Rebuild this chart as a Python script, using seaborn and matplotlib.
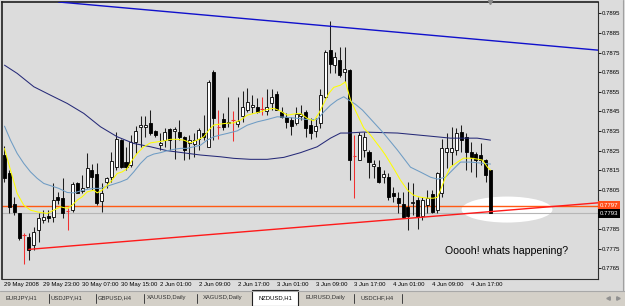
import numpy as np
import pandas as pd
import matplotlib
matplotlib.use("Agg")
import matplotlib.pyplot as plt
from matplotlib.patches import Ellipse, Rectangle
from matplotlib.lines import Line2D
import seaborn as sns

# ---------------- data ----------------
open_ = [0.78228, 0.78134, 0.77978, 0.77930, 0.77818, 0.77811, 0.77768, 0.77845, 0.77896, 0.77916,
         0.77913, 0.78015, 0.78007, 0.77944, 0.77947, 0.78086, 0.78046, 0.78066, 0.78151, 0.78131,
         0.77995, 0.78090, 0.78117, 0.78168, 0.78304, 0.78190, 0.78177, 0.78295, 0.78369, 0.78369,
         0.78389, 0.78350, 0.78280, 0.78307, 0.78362, 0.78350, 0.78346, 0.78318, 0.78287, 0.78284,
         0.78312, 0.78341, 0.78270, 0.78653, 0.78372, 0.78411, 0.78389, 0.78409, 0.78386, 0.78426,
         0.78460, 0.78471, 0.78474, 0.78462, 0.78454, 0.78491, 0.78539, 0.78448, 0.78420, 0.78409,
         0.78392, 0.78426, 0.78448, 0.78381, 0.78352, 0.78389, 0.78525, 0.78763, 0.78687, 0.78712,
         0.78653, 0.78661, 0.78222, 0.78205, 0.78253, 0.78245, 0.78171, 0.78168, 0.78114, 0.78117,
         0.78032, 0.78007, 0.77978, 0.77964, 0.77981, 0.77998, 0.77916, 0.77973, 0.78029, 0.77947,
         0.78032, 0.78245, 0.78245, 0.78253, 0.78346, 0.78318, 0.78245, 0.78233, 0.78228, 0.78202,
         0.78151]
high = [0.78273, 0.78151, 0.78015, 0.77934, 0.77828, 0.77828, 0.77862, 0.77930, 0.77947, 0.77947,
        0.78083, 0.78040, 0.78109, 0.77956, 0.78091, 0.78091, 0.78126, 0.78240, 0.78182, 0.78185,
        0.78083, 0.78117, 0.78245, 0.78346, 0.78312, 0.78270, 0.78329, 0.78375, 0.78426, 0.78426,
        0.78460, 0.78355, 0.78341, 0.78364, 0.78367, 0.78372, 0.78409, 0.78324, 0.78329, 0.78338,
        0.78364, 0.78431, 0.78610, 0.78661, 0.78457, 0.78440, 0.78525, 0.78452, 0.78525, 0.78556,
        0.78568, 0.78534, 0.78517, 0.78525, 0.78562, 0.78562, 0.78556, 0.78474, 0.78440, 0.78423,
        0.78474, 0.78483, 0.78457, 0.78415, 0.78415, 0.78562, 0.78763, 0.78913, 0.78755, 0.78780,
        0.78780, 0.78669, 0.78329, 0.78346, 0.78346, 0.78253, 0.78205, 0.78202, 0.78151, 0.78134,
        0.78066, 0.78040, 0.78040, 0.78091, 0.78083, 0.78015, 0.78015, 0.78052, 0.78049, 0.78143,
        0.78312, 0.78338, 0.78372, 0.78364, 0.78381, 0.78338, 0.78295, 0.78245, 0.78287, 0.78210,
        0.78151]
low = [0.78091, 0.77930, 0.77922, 0.77797, 0.77675, 0.77692, 0.77743, 0.77786, 0.77879, 0.77888,
       0.77888, 0.77978, 0.77905, 0.77845, 0.77939, 0.78032, 0.78035, 0.78058, 0.78052, 0.77973,
       0.77939, 0.78058, 0.78091, 0.78151, 0.78160, 0.78151, 0.78168, 0.78236, 0.78270, 0.78321,
       0.78329, 0.78321, 0.78253, 0.78270, 0.78253, 0.78210, 0.78304, 0.78205, 0.78210, 0.78219,
       0.78253, 0.78304, 0.78270, 0.78304, 0.78312, 0.78355, 0.78372, 0.78300, 0.78372, 0.78398,
       0.78448, 0.78440, 0.78440, 0.78431, 0.78431, 0.78457, 0.78457, 0.78415, 0.78364, 0.78329,
       0.78381, 0.78406, 0.78321, 0.78312, 0.78321, 0.78364, 0.78517, 0.78644, 0.78644, 0.78627,
       0.78601, 0.78100, 0.78007, 0.78202, 0.78219, 0.78109, 0.78109, 0.78083, 0.78083, 0.77998,
       0.77990, 0.77930, 0.77905, 0.77845, 0.77922, 0.77853, 0.77896, 0.77930, 0.77930, 0.77930,
       0.78015, 0.78160, 0.78177, 0.78228, 0.78245, 0.78151, 0.78143, 0.78117, 0.78177, 0.78091,
       0.77930]
close = [0.78109, 0.77964, 0.77939, 0.77803, 0.77818, 0.77743, 0.77836, 0.77905, 0.77910, 0.77905,
         0.77998, 0.77998, 0.77930, 0.77944, 0.78078, 0.78035, 0.78058, 0.78160, 0.78117, 0.77981,
         0.78035, 0.78109, 0.78199, 0.78312, 0.78168, 0.78168, 0.78295, 0.78350, 0.78379, 0.78379,
         0.78338, 0.78329, 0.78290, 0.78346, 0.78304, 0.78360, 0.78318, 0.78253, 0.78307, 0.78307,
         0.78355, 0.78318, 0.78601, 0.78415, 0.78372, 0.78369, 0.78398, 0.78409, 0.78400, 0.78471,
         0.78500, 0.78483, 0.78448, 0.78462, 0.78471, 0.78522, 0.78460, 0.78423, 0.78398, 0.78375,
         0.78437, 0.78437, 0.78364, 0.78341, 0.78375, 0.78534, 0.78755, 0.78692, 0.78726, 0.78636,
         0.78669, 0.78202, 0.78222, 0.78329, 0.78321, 0.78194, 0.78182, 0.78091, 0.78131, 0.78015,
         0.78018, 0.77981, 0.77913, 0.77916, 0.77990, 0.77913, 0.77998, 0.78007, 0.77939, 0.78134,
         0.78262, 0.78262, 0.78262, 0.78338, 0.78304, 0.78245, 0.78219, 0.78205, 0.78205, 0.78126,
         0.77930]

date_label_bars = [0, 8, 16, 24, 32, 40, 48, 56, 64, 72, 80, 88, 96]
date_labels = ["29 May 2008", "29 May 23:00", "30 May 07:00", "30 May 15:00", "2 Jun 01:00",
               "2 Jun 09:00", "2 Jun 17:00", "3 Jun 01:00", "3 Jun 09:00", "3 Jun 17:00",
               "4 Jun 01:00", "4 Jun 09:00", "4 Jun 17:00"]
price_ticks = [0.7765, 0.7775, 0.7785, 0.7805, 0.7815, 0.7825, 0.7835, 0.7845,
               0.7855, 0.7865, 0.7875, 0.7885, 0.7895]

yellow_bar = [0, 1.23, 2.61, 3.97, 5.35, 6.73, 8.79, 10.14, 11.52, 12.9,
              13.93, 14.96, 15.99, 17.02, 18.37, 19.07, 20.1, 21.13, 22.16, 23.19,
              24.22, 25.25, 26.28, 27.3, 28.66, 30.04, 31.42, 32.78, 34.16, 35.53,
              36.89, 38.27, 39.65, 41.01, 42.04, 43.07, 44.44, 45.82, 47.18, 48.56,
              49.94, 51.3, 52.67, 54.05, 55.41, 56.79, 58.17, 59.53, 60.91, 62.28,
              63.64, 64.67, 65.7, 66.73, 67.76, 69.14, 70.16, 71.2, 72.57, 73.93,
              75.3, 77.37, 78.4, 80.04, 81.48, 82.92, 84.16, 85.6, 87.04, 88.27,
              89.09, 89.71, 90.74, 91.77, 93.21, 94.44, 95.88, 97.33, 98.35, 99.38, 100]
yellow_price = [0.78261, 0.78151, 0.78032, 0.77972, 0.77947, 0.77938, 0.7793, 0.77947, 0.77964, 0.77956,
                0.77972, 0.77998, 0.78015, 0.7804, 0.78049, 0.78035, 0.78049, 0.78074, 0.781, 0.78134,
                0.78142, 0.78159, 0.78202, 0.78236, 0.7827, 0.7829, 0.78295, 0.783, 0.78308, 0.78308,
                0.78304, 0.7829, 0.78304, 0.78321, 0.78355, 0.78381, 0.78386, 0.7839, 0.78392, 0.78406,
                0.78431, 0.7844, 0.78448, 0.7846, 0.78466, 0.78452, 0.78431, 0.78437, 0.7844, 0.78415,
                0.78402, 0.7844, 0.78491, 0.78542, 0.78573, 0.78584, 0.78601, 0.78508, 0.78436, 0.78365,
                0.7833, 0.78263, 0.78227, 0.78161, 0.781, 0.78049, 0.78023, 0.78013, 0.78008, 0.78008,
                0.78013, 0.78049, 0.78115, 0.78166, 0.78192, 0.78212, 0.78212, 0.78207, 0.78202, 0.78166, 0.78151]

steel_bar = [0, 1.23, 2.61, 3.97, 5.35, 6.73, 8.09, 9.81, 11.17, 12.9,
             14.26, 15.64, 17.02, 18.37, 19.75, 21.13, 22.49, 23.87, 25.25, 26.6,
             27.98, 29.36, 30.72, 32.1, 33.48, 34.84, 36.21, 37.59, 38.95, 40.33,
             41.7, 43.07, 44.44, 45.82, 47.88, 49.94, 52.0, 54.05, 56.11, 58.17,
             60.23, 62.28, 64.34, 65.7, 67.08, 68.46, 69.81, 70.84, 72.2, 73.66,
             77.98, 80.86, 83.54, 85.6, 87.65, 89.09, 90.74, 91.77, 93.83, 95.88, 97.94, 100]
steel_price = [0.78375, 0.78304, 0.78236, 0.78185, 0.78142, 0.78109, 0.78083, 0.78069, 0.78058, 0.78037,
               0.78035, 0.78045, 0.78053, 0.78058, 0.78058, 0.78069, 0.7808, 0.78091, 0.78105, 0.78142,
               0.78185, 0.78219, 0.78233, 0.7824, 0.7825, 0.78257, 0.78262, 0.78262, 0.7827, 0.78278,
               0.78304, 0.78321, 0.7833, 0.78338, 0.78351, 0.7838, 0.78397, 0.78409, 0.78423, 0.7842,
               0.78415, 0.78409, 0.78409, 0.78448, 0.78482, 0.78508, 0.78525, 0.78508, 0.78487, 0.78457,
               0.7834, 0.78253, 0.78166, 0.78141, 0.78115, 0.78105, 0.78115, 0.78141, 0.78192, 0.78192, 0.78187, 0.78182]

navy_bar = [0, 2.61, 6.03, 9.47, 12.9, 16.32, 19.75, 23.19, 26.6, 30.04,
            33.48, 36.89, 40.33, 44.44, 47.18, 50.62, 54.05, 57.47, 60.91, 64.34,
            67.08, 69.14, 70.58, 73.87, 80.86, 87.65, 89.71, 91.77, 93.83, 97.26, 100]
navy_price = [0.78686, 0.78644, 0.78576, 0.78533, 0.78491, 0.7844, 0.78372, 0.78321, 0.78287, 0.7827,
              0.7825, 0.78239, 0.78228, 0.78219, 0.78211, 0.78206, 0.78206, 0.78216, 0.7824, 0.7827,
              0.78314, 0.7834, 0.7834, 0.78345, 0.7834, 0.78324, 0.78319, 0.78314, 0.78314, 0.78314, 0.78304]

blue_trend_bar = [12.96, 116.5]
blue_trend_price = [0.79004, 0.78775]
red_trend_bar = [5.0, 116.5]
red_trend_price = [0.77747, 0.77973]
level_price = 0.7797
bid_price = 0.7793
ellipse_center = (103.4, 0.77950)
ellipse_size = (18.7, 0.001325)
note_text = "Ooooh! whats happening?"
note_pos = (90.6, 0.77741)
tab_names = ["EURJPY,H1", "USDJPY,H1", "GBPUSD,H4", "XAUUSD,Daily", "XAGUSD,Daily",
             "NZDUSD,H1", "EURUSD,Daily", "USDCHF,H4"]
active_tab = "NZDUSD,H1"

# ---------------- style ----------------
BG = "#DCDCDC"
sns.set_theme(style="white", rc={"axes.facecolor": BG, "figure.facecolor": BG,
                                 "axes.edgecolor": "black"})
plt.rcParams["font.family"] = ["Liberation Sans", "DejaVu Sans"]

W, H = 625, 306
fig = plt.figure(figsize=(W / 100, H / 100), dpi=100)
ax = fig.add_axes([2 / W, 1 - 279 / H, 596 / W, 277 / H])
ax.set_facecolor(BG)
ax.set_xlim(-0.514, 122.12)
ax.set_ylim(0.77596, 0.79008)

# background objects
ax.add_patch(Ellipse(ellipse_center, ellipse_size[0], ellipse_size[1],
                     facecolor="white", edgecolor="none", zorder=1.1))
ax.axhline(bid_price, color="#B6B6B6", lw=0.8, zorder=1.5)
ax.axhline(level_price, color="#FF5A14", lw=1.0, zorder=1.6)

# candles
df = pd.DataFrame({"o": open_, "h": high, "l": low, "c": close})
df["bar"] = np.arange(len(df))
doji = df["o"] == df["c"]
bull = df["c"] > df["o"]
bear = df["c"] < df["o"]
nd = df[~doji]
ax.vlines(nd["bar"], nd["l"], nd["h"], color="#1E1E1E", lw=0.75, zorder=3)
dj = df[doji]
ax.vlines(dj["bar"], dj["l"], dj["h"], color="#F03030", lw=0.75, zorder=3)
ax.hlines(dj["o"], dj["bar"] - 0.35, dj["bar"] + 0.35, color="#F03030", lw=0.8, zorder=3)
bw = 0.62
b = df[bull]
ax.bar(b["bar"], b["c"] - b["o"], bottom=b["o"], width=bw, color="white",
       edgecolor="black", linewidth=0.6, zorder=3.2)
s = df[bear]
ax.bar(s["bar"], s["o"] - s["c"], bottom=s["c"], width=bw, color="black",
       edgecolor="black", linewidth=0.6, zorder=3.2)

# moving averages via seaborn
ma = pd.concat([
    pd.DataFrame({"bar": navy_bar, "price": navy_price, "line": "slow"}),
    pd.DataFrame({"bar": steel_bar, "price": steel_price, "line": "mid"}),
    pd.DataFrame({"bar": yellow_bar, "price": yellow_price, "line": "fast"}),
])
sns.lineplot(data=ma, x="bar", y="price", hue="line", estimator=None, sort=False,
             palette={"slow": "#262A78", "mid": "#6E9CC4", "fast": "#FFFF00"},
             linewidth=0.75, legend=False, ax=ax, zorder=4)

# trend lines
ax.axline((blue_trend_bar[0], blue_trend_price[0]), (blue_trend_bar[1], blue_trend_price[1]),
          color="#1010CC", lw=1.0, zorder=4.5)
slope = (red_trend_price[1] - red_trend_price[0]) / (red_trend_bar[1] - red_trend_bar[0])
xr = ax.get_xlim()[1]
ax.plot([red_trend_bar[0], xr], [red_trend_price[0], red_trend_price[0] + slope * (xr - red_trend_bar[0])],
        color="#FF1A1A", lw=1.0, zorder=4.5)

ax.text(note_pos[0], note_pos[1], note_text, fontsize=7.6, color="black",
        ha="left", va="center", zorder=6)

# shift marker at top
ax.plot([len(df) - 1], [ax.get_ylim()[1]], marker="v", color="#8C8C8C", ms=3,
        clip_on=False, zorder=6)

# axes
ax.yaxis.tick_right()
ax.set_yticks(price_ticks)
ax.set_yticklabels([f"{p:.4f}" for p in price_ticks])
ax.tick_params(axis="y", length=2, width=0.6, pad=1, labelsize=4.3, colors="black", direction="out")
ax.set_xticks(date_label_bars)
ax.set_xticklabels(date_labels, ha="left")
ax.tick_params(axis="x", length=2, width=0.6, pad=0.5, labelsize=4.3, colors="black", direction="out")
ax.set_xlabel("")
ax.set_ylabel("")
for side in ["left", "top"]:
    ax.spines[side].set_linewidth(1.2)
    ax.spines[side].set_color("#202020")
for side in ["right", "bottom"]:
    ax.spines[side].set_linewidth(0.8)
    ax.spines[side].set_color("#303030")

# price boxes on axis
ytr = ax.get_yaxis_transform()
ax.text(1.003, level_price, f"{level_price:.4f}", transform=ytr, fontsize=4.3, color="white",
        ha="left", va="center", clip_on=False,
        bbox=dict(boxstyle="square,pad=0.3", fc="#FF4E1A", ec="none"))
ax.text(1.003, bid_price, f"{bid_price:.4f}", transform=ytr, fontsize=4.3, color="white",
        ha="left", va="center", clip_on=False,
        bbox=dict(boxstyle="square,pad=0.3", fc="black", ec="none"))

# window chrome: right border, tab strip
fig.add_artist(Line2D([622.5 / W] * 2, [1 - 0 / H, 1 - 291 / H], transform=fig.transFigure,
                      color="#A0A0A0", lw=0.8))
fig.add_artist(Rectangle((0, 0), 1, 15 / H, transform=fig.transFigure,
                         facecolor="#D4D0C8", edgecolor="none"))
fig.add_artist(Line2D([0, 1], [15 / H] * 2, transform=fig.transFigure, color="#A8A8A8", lw=0.8))
tab_centers = [21.5, 66.5, 114.5, 166.5, 223, 275.5, 325.5, 377.5]
seps = [49, 96, 144, 197, 354, 402]
for sx in seps:
    fig.add_artist(Line2D([sx / W] * 2, [3 / H, 12 / H], transform=fig.transFigure,
                          color="#404040", lw=0.7))
fig.add_artist(Rectangle((252 / W, 0), 46 / W, 16 / H, transform=fig.transFigure,
                         facecolor="white", edgecolor="#202020", lw=0.8))
for name, cx in zip(tab_names, tab_centers):
    fig.text(cx / W, 8.5 / H, name, fontsize=4.2, color="#303030" if name != active_tab else "black",
             ha="center", va="center")
fig.add_artist(Line2D([608 / W], [8.5 / H], transform=fig.transFigure, marker="<",
                      color="#909090", ms=2.5, lw=0))
fig.add_artist(Line2D([618 / W], [8.5 / H], transform=fig.transFigure, marker=">",
                      color="#909090", ms=2.5, lw=0))

fig.savefig("out.png", dpi=100, facecolor=BG)
